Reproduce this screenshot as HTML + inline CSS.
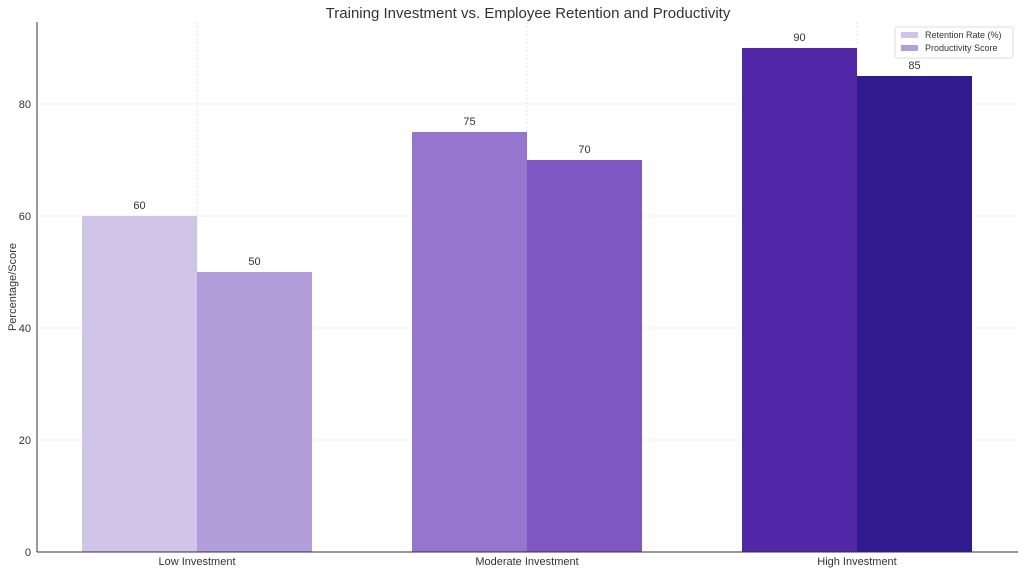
<!DOCTYPE html>
<html><head><meta charset="utf-8"><style>
body{margin:0;background:#fff;font-family:"Liberation Sans","DejaVu Sans",sans-serif}
</style></head><body>
<svg id="chart" width="1024" height="573" xmlns="http://www.w3.org/2000/svg" font-family="Liberation Sans, DejaVu Sans, sans-serif">
<text x="528" y="18" text-anchor="middle" font-size="15" fill="#333">Training Investment vs. Employee Retention and Productivity</text>
<g id="grid"></g>
<g id="bars"></g>
<g id="labels"></g>
<line x1="37" y1="22" x2="37" y2="552" stroke="#333" stroke-width="1"/>
<line x1="37" y1="552" x2="1018" y2="552" stroke="#333" stroke-width="1"/>
<text transform="translate(16,287) rotate(-90)" text-anchor="middle" font-size="11" fill="#333">Percentage/Score</text>
<g>
<rect x="895" y="27" width="118" height="31" fill="#fff" stroke="#ddd" rx="2"/>
<rect x="901" y="32" width="17" height="6" fill="#d1c4e9"/>
<text x="925" y="38" font-size="9" fill="#333">Retention Rate (%)</text>
<rect x="901" y="45" width="17" height="6" fill="#b39ddb"/>
<text x="925" y="51" font-size="9" fill="#333">Productivity Score</text>
</g>
</svg>
<script>
const categories=["Low Investment","Moderate Investment","High Investment"];
const retention=[60,75,90];
const productivity=[50,70,85];
const yTicks=[0,20,40,60,80];
const retColors=["#d1c4e9","#9575cd","#5128a8"];
const prodColors=["#b39ddb","#7e57c2","#2f1a90"];
const NS="http://www.w3.org/2000/svg";
const y=v=>552-v*5.6;
const xc=i=>197+i*330;
const bw=115;
function mk(t,a,p){const e=document.createElementNS(NS,t);for(const k in a)e.setAttribute(k,a[k]);p.appendChild(e);return e;}
const grid=document.getElementById('grid'),bars=document.getElementById('bars'),labels=document.getElementById('labels');
yTicks.forEach(v=>{
  const l=mk('line',{x1:37,x2:1018,y1:y(v),y2:y(v),stroke:'#e3e3e3','stroke-dasharray':'2,2'},grid);
  
  
  const t=mk('text',{x:31,y:y(v)+4,'text-anchor':'end','font-size':11,fill:'#333'},labels);
  t.textContent=v;
  
  
});
categories.forEach((c,i)=>{
  const g=mk('line',{x1:xc(i),x2:xc(i),y1:22,y2:552,stroke:'#e3e3e3','stroke-dasharray':'2,2'},grid);
  
  
  const r=mk('rect',{x:xc(i)-bw,y:y(retention[i]),width:bw,height:552-y(retention[i]),fill:retColors[i]},bars);
  
  
  const p=mk('rect',{x:xc(i),y:y(productivity[i]),width:bw,height:552-y(productivity[i]),fill:prodColors[i]},bars);
  
  
  const t1=mk('text',{x:xc(i)-bw/2,y:y(retention[i])-7,'text-anchor':'middle','font-size':11,fill:'#333'},labels);
  t1.textContent=retention[i];
  
  
  const t2=mk('text',{x:xc(i)+bw/2,y:y(productivity[i])-7,'text-anchor':'middle','font-size':11,fill:'#333'},labels);
  t2.textContent=productivity[i];
  
  
  const xl=mk('text',{x:xc(i),y:565,'text-anchor':'middle','font-size':11,fill:'#333'},labels);
  xl.textContent=c;
  
  
});
</script>
</body></html>
